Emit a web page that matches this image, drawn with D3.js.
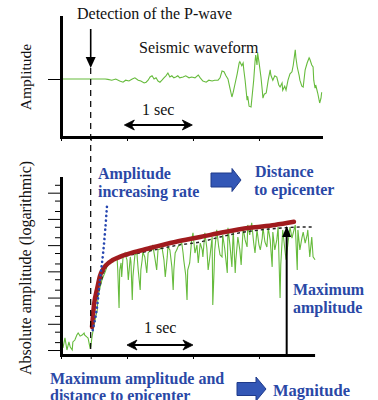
<!DOCTYPE html>
<html>
<head>
<meta charset="utf-8">
<script src="https://cdn.jsdelivr.net/npm/d3@7"></script>
<style>
  body { margin: 0; background: #fff; }
</style>
</head>
<body>
<svg id="chart" width="378" height="400"></svg>
<script>
// time of P-wave detection (s)
const pWaveTime = 0.45;

// seismic waveform, [time (s), amplitude]
const waveform = [
  [0,0],[0.67,0],[0.71,-0.01],[0.77,-0.03],[0.83,0],[0.89,-0.05],[0.94,-0.08],[0.98,-0.03],
  [1.03,-0.05],[1.08,0],[1.12,0.03],[1.17,-0.03],[1.21,-0.05],[1.26,-0.10],[1.29,-0.08],[1.32,-0.03],
  [1.35,0.05],[1.38,0.08],[1.41,0],[1.44,0.03],[1.47,-0.05],[1.50,-0.08],[1.53,-0.03],[1.56,0.03],
  [1.59,0.08],[1.62,0.15],[1.65,0.05],[1.68,0.08],[1.71,0.03],[1.74,0.05],[1.77,0.08],[1.80,0.03],
  [1.85,0.05],[1.89,0.08],[1.94,0.03],[1.98,0.05],[2.03,0.03],[2.08,0.10],[2.11,0.03],[2.15,-0.05],
  [2.20,-0.08],[2.24,-0.03],[2.29,-0.05],[2.33,-0.03],[2.38,-0.03],[2.41,0.03],[2.44,0.20],[2.47,0.18],
  [2.50,0.08],[2.53,0],[2.56,-0.23],[2.59,-0.45],[2.61,-0.33],[2.64,-0.10],[2.67,0.13],[2.70,0.40],
  [2.71,0.43],[2.74,0.33],[2.76,0.40],[2.77,0.23],[2.79,-0.03],[2.82,-0.53],[2.83,-0.43],[2.85,-0.68],
  [2.88,-0.70],[2.89,-0.53],[2.92,-0.03],[2.94,0.43],[2.95,0.60],[2.97,0.35],[2.98,0.65],[3.00,0.43],
  [3.03,0.05],[3.05,-0.28],[3.06,-0.48],[3.08,-0.38],[3.11,-0.35],[3.14,-0.03],[3.17,0.23],[3.18,0.10],
  [3.21,-0.03],[3.24,0.08],[3.27,0.05],[3.30,-0.15],[3.32,-0.20],[3.35,-0.10],[3.36,-0.28],[3.39,-0.18],
  [3.41,-0.28],[3.44,-0.03],[3.47,0.13],[3.50,0.18],[3.52,0.35],[3.55,0.73],[3.56,0.53],[3.58,0.30],
  [3.61,0.08],[3.62,-0.03],[3.65,-0.18],[3.67,-0.20],[3.70,0.23],[3.73,0.40],[3.76,0.53],[3.77,0.50],
  [3.80,0.35],[3.82,0.30],[3.83,-0.03],[3.85,-0.23],[3.86,-0.15],[3.89,-0.35],[3.92,-0.60],[3.94,-0.48],
  [3.95,-0.33]
];

// absolute amplitude, [time (s), log10 amplitude]
const absAmplitude = [
  [0.03,0.08],[0.06,0.46],[0.09,0],[0.12,0.31],[0.14,0.11],[0.17,0],[0.18,0.31],[0.21,0.38],
  [0.24,0.57],[0.26,0.65],[0.29,0.53],[0.32,0.57],[0.35,0.65],[0.36,0.57],[0.39,0.50],[0.41,0.46],
  [0.44,0.08],[0.45,0.11],[0.47,0.50],[0.50,0.95],[0.53,1.30],[0.55,1.53],[0.56,2.02],[0.59,2.37],
  [0.62,2.67],[0.65,2.86],[0.67,2.98],[0.70,3.21],[0.71,3.24],[0.74,3.36],[0.79,3.36],[0.82,3.47],
  [0.85,3.51],[0.86,3.05],[0.88,1.60],[0.89,3.05],[0.91,3.32],[0.92,2.79],[0.94,3.55],[0.97,3.70],
  [0.98,3.59],[1.00,3.44],[1.02,2.67],[1.05,3.55],[1.06,3.36],[1.08,1.91],[1.09,2.79],[1.11,3.36],
  [1.12,3.63],[1.15,3.70],[1.17,3.05],[1.20,2.29],[1.21,3.05],[1.23,3.44],[1.24,3.74],[1.27,3.55],
  [1.30,2.94],[1.32,3.70],[1.35,3.78],[1.38,3.82],[1.39,4.01],[1.42,3.55],[1.45,3.05],[1.47,3.82],
  [1.50,3.85],[1.53,3.93],[1.56,3.44],[1.58,2.79],[1.61,3.55],[1.62,3.93],[1.65,3.82],[1.68,3.17],
  [1.70,2.29],[1.71,3.05],[1.73,3.70],[1.76,3.85],[1.77,3.93],[1.80,4.01],[1.83,4.08],[1.85,3.70],
  [1.86,3.44],[1.89,2.86],[1.91,1.91],[1.92,3.05],[1.95,3.32],[1.98,4.20],[2.00,4.47],[2.03,3.70],
  [2.06,4.01],[2.08,3.32],[2.11,4.08],[2.14,3.82],[2.15,3.55],[2.18,4.47],[2.21,3.89],[2.23,3.05],
  [2.26,3.63],[2.29,4.31],[2.30,1.72],[2.32,3.05],[2.33,3.82],[2.36,4.58],[2.39,3.93],[2.41,3.63],
  [2.44,3.55],[2.45,4.39],[2.48,3.89],[2.52,2.94],[2.53,4.66],[2.56,4.01],[2.59,3.17],[2.61,4.58],
  [2.64,2.94],[2.65,3.44],[2.68,4.31],[2.71,3.82],[2.73,3.24],[2.76,4.66],[2.79,4.20],[2.82,3.93],
  [2.83,4.77],[2.86,4.39],[2.89,4.85],[2.92,4.08],[2.94,3.70],[2.97,4.58],[3.00,4.01],[3.02,3.82],
  [3.05,4.27],[3.06,4.69],[3.09,4.12],[3.12,3.93],[3.14,4.66],[3.17,4.20],[3.20,3.17],[3.21,4.50],
  [3.24,3.82],[3.27,4.20],[3.29,4.69],[3.32,1.98],[3.33,3.24],[3.36,4.58],[3.39,3.89],[3.41,3.44],
  [3.44,4.08],[3.47,4.69],[3.50,4.27],[3.55,4.77],[3.58,3.05],[3.59,4.58],[3.62,3.82],[3.65,4.27],
  [3.67,4.50],[3.70,4.08],[3.73,4.39],[3.74,4.58],[3.77,3.55],[3.80,4.31],[3.82,3.55],[3.85,3.44]
];

// running peak envelope (black dotted)
const peakEnvelope = [
  [0.55,2.02],[0.59,2.44],[0.65,2.98],[0.74,3.32],[0.89,3.51],[1.12,3.66],[1.42,3.82],[1.80,4.01],
  [2.11,4.12],[2.41,4.31],[2.71,4.47],[3.02,4.58],[3.39,4.66],[3.62,4.69],[3.80,4.69]
];

// fitted growth curve (red)
const fitCurve = [
  [0.47,0.88],[0.50,1.72],[0.55,2.37],[0.59,2.82],[0.65,3.13],[0.74,3.36],[0.89,3.55],[1.12,3.74],
  [1.35,3.89],[1.73,4.12],[2.11,4.31],[2.48,4.50],[2.86,4.66],[3.24,4.77],[3.53,4.89]
];

// initial amplitude increasing rate (blue dotted)
const initialRate = [
  [0.48,0.76],[0.55,1.72],[0.59,2.67],[0.64,3.74],[0.67,4.58],[0.70,5.61]
];

// maximum amplitude marker
const maxAmp = { t: 3.42, logA: 4.73 };

const timeTicks = [0, pWaveTime, 1, 2, 3];
const decadeTicks = [1, 1e1, 1e2, 1e3, 1e4, 1e5, 1e6];
const minorTicks = [2, 5, 20, 50, 200, 500, 2e3, 5e3, 2e4, 5e4, 2e5, 5e5, 2e6];

const green = "#66bb3c";
const blue = "#2a48a6";
const serif = "'Liberation Serif', 'Times New Roman', 'DejaVu Serif', serif";

const svg = d3.select("#chart");

// scales
const x = d3.scaleLinear().domain([0, 3.94]).range([61, 321]);
const xBottom = x.copy().domain([0, 3.82]).range([61, x(3.82)]);
const yTop = d3.scaleLinear().domain([-1.45, 1.55]).range([137, 17]);
const yBot = d3.scaleLog().domain([10 ** -0.19, 10 ** 6.56]).range([355, 178]);

const lineTop = d3.line().x(d => x(d[0])).y(d => yTop(d[1]));
const lineBot = d3.line().x(d => x(d[0])).y(d => yBot(10 ** d[1]));

// ---------- top panel ----------
svg.append("path")
  .datum(waveform)
  .attr("d", lineTop)
  .attr("fill", "none")
  .attr("stroke", green)
  .attr("stroke-width", 1.1);

const styleAxis = g => {
  g.select(".domain").attr("stroke-width", 3).attr("stroke-linecap", "square");
  g.selectAll(".tick line").attr("stroke-width", 1);
};

svg.append("g")
  .attr("transform", `translate(0,${yTop.range()[0]})`)
  .call(d3.axisBottom(x).tickValues(timeTicks).tickSize(4).tickSizeOuter(0).tickFormat(""))
  .call(styleAxis);

svg.append("g")
  .attr("transform", `translate(${x(0)},0)`)
  .call(d3.axisLeft(yTop).tickValues([0]).tickSize(13).tickSizeOuter(0).tickFormat(""))
  .call(styleAxis);

// ---------- bottom panel ----------
svg.append("path")
  .datum(absAmplitude)
  .attr("d", lineBot)
  .attr("fill", "none")
  .attr("stroke", green)
  .attr("stroke-width", 1.1);

svg.append("path")
  .datum(peakEnvelope)
  .attr("d", lineBot.curve(d3.curveMonotoneX))
  .attr("fill", "none")
  .attr("stroke", "#222")
  .attr("stroke-width", 1.4)
  .attr("stroke-dasharray", "3,3");

svg.append("path")
  .datum(fitCurve)
  .attr("d", lineBot.curve(d3.curveMonotoneX))
  .attr("fill", "none")
  .attr("stroke", "#a01b1e")
  .attr("stroke-width", 4.5)
  .attr("stroke-linecap", "round");

svg.append("path")
  .datum(initialRate)
  .attr("d", lineBot.curve(d3.curveMonotoneX))
  .attr("fill", "none")
  .attr("stroke", "#2646b0")
  .attr("stroke-width", 2.6)
  .attr("stroke-linecap", "round")
  .attr("stroke-dasharray", "0.1,4.5");

svg.append("g")
  .attr("transform", `translate(0,${yBot.range()[0]})`)
  .call(d3.axisBottom(xBottom).tickValues(timeTicks).tickSize(4).tickSizeOuter(0).tickFormat(""))
  .call(styleAxis);

svg.append("g")
  .attr("transform", `translate(${x(0)},0)`)
  .call(d3.axisLeft(yBot).tickValues(minorTicks).tickSize(6).tickSizeOuter(0).tickFormat(""))
  .call(styleAxis);

svg.append("g")
  .attr("transform", `translate(${x(0)},0)`)
  .call(d3.axisLeft(yBot).tickValues(decadeTicks).tickSize(13).tickSizeOuter(0).tickFormat(""))
  .call(styleAxis);

// ---------- P-wave detection marker ----------
const px = x(pWaveTime);
svg.append("line")
  .attr("x1", px).attr("x2", px).attr("y1", 68).attr("y2", yBot.range()[0])
  .attr("stroke", "#000").attr("stroke-width", 1.2).attr("stroke-dasharray", "6,5");
svg.append("line")
  .attr("x1", px).attr("x2", px).attr("y1", 29).attr("y2", 60)
  .attr("stroke", "#000").attr("stroke-width", 1.6);
svg.append("path")
  .attr("d", `M${px - 5},57 L${px + 5},57 L${px},68 Z`)
  .attr("fill", "#000");

// ---------- maximum amplitude arrow ----------
const mx = x(maxAmp.t), my = yBot(10 ** maxAmp.logA);
svg.append("line")
  .attr("x1", mx).attr("x2", mx).attr("y1", yBot.range()[0]).attr("y2", my + 8)
  .attr("stroke", "#000").attr("stroke-width", 2);
svg.append("path")
  .attr("d", `M${mx},${my} L${mx - 4.5},${my + 11} L${mx + 4.5},${my + 11} Z`)
  .attr("fill", "#000");

// ---------- 1 sec double arrows ----------
function doubleArrow(x1, x2, yy) {
  svg.append("line")
    .attr("x1", x1 + 4).attr("x2", x2 - 4).attr("y1", yy).attr("y2", yy)
    .attr("stroke", "#000").attr("stroke-width", 1.8);
  svg.append("path")
    .attr("d", `M${x1},${yy} L${x1 + 10},${yy - 5} L${x1 + 7},${yy} L${x1 + 10},${yy + 5} Z`)
    .attr("fill", "#000").attr("stroke", "#000").attr("stroke-width", 0.8);
  svg.append("path")
    .attr("d", `M${x2},${yy} L${x2 - 10},${yy - 5} L${x2 - 7},${yy} L${x2 - 10},${yy + 5} Z`)
    .attr("fill", "#000").attr("stroke", "#000").attr("stroke-width", 0.8);
}
doubleArrow(x(0.96), x(1.99), 125);
doubleArrow(x(1.0), x(2.0), 345);

// ---------- block arrows ----------
function blockArrow(x0, x1, x2, yc, bodyH, headH) {
  const p = `M${x0},${yc - bodyH / 2} L${x1},${yc - bodyH / 2} L${x1},${yc - headH / 2} L${x2},${yc}
    L${x1},${yc + headH / 2} L${x1},${yc + bodyH / 2} L${x0},${yc + bodyH / 2} Z`;
  svg.append("path")
    .attr("d", p)
    .attr("fill", "#3357b6")
    .attr("stroke", "#1f3a8a")
    .attr("stroke-width", 1);
}
blockArrow(211, 232, 241, 180, 14, 23);
blockArrow(237, 256, 266, 389, 13, 24);

// ---------- text ----------
const label = (txt, tx, ty, opts = {}) => svg.append("text")
  .attr("x", tx).attr("y", ty)
  .attr("font-family", serif)
  .attr("font-size", opts.size || 16)
  .attr("font-weight", opts.bold ? "bold" : "normal")
  .attr("fill", opts.color || "#111")
  .text(txt);

label("Detection of the P-wave", 77, 19);
label("Seismic waveform", 139, 53);
label("1 sec", 142, 115);
label("1 sec", 144, 333);

svg.append("text")
  .attr("transform", "translate(31,77) rotate(-90)")
  .attr("text-anchor", "middle")
  .attr("font-family", serif)
  .attr("font-size", 15.5)
  .attr("fill", "#111")
  .text("Amplitude");

svg.append("text")
  .attr("transform", "translate(31,268) rotate(-90)")
  .attr("text-anchor", "middle")
  .attr("font-family", serif)
  .attr("font-size", 16)
  .attr("fill", "#111")
  .text("Absolute amplitude (logarithmic)");

const b = { bold: true, color: blue };
label("Amplitude", 98, 179, b);
label("increasing rate", 98, 197, b);
label("Distance", 255, 177, b);
label("to epicenter", 254, 195, b);
label("Maximum", 293, 295, b);
label("amplitude", 293, 313, b);
label("Maximum amplitude and", 50, 384, b);
label("distance to epicenter", 50, 401, b);
label("Magnitude", 273, 396, { bold: true, color: blue, size: 16.5 });
</script>
</body>
</html>
